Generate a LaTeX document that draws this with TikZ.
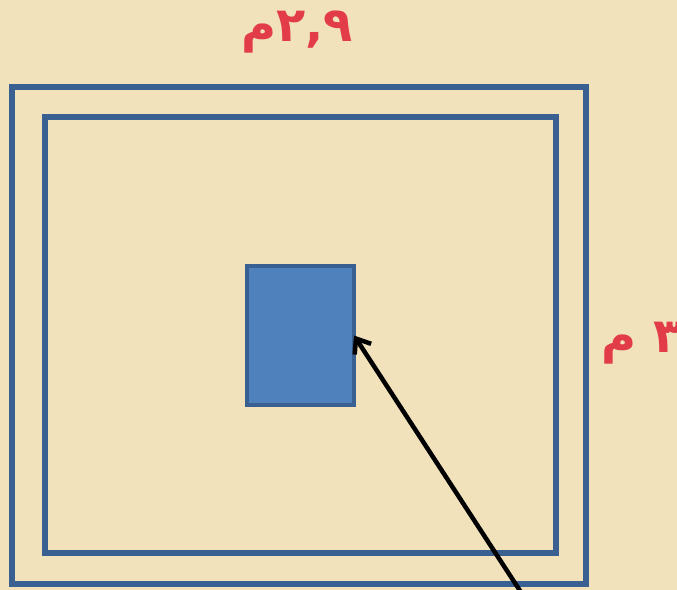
\documentclass[tikz,border=0pt]{standalone}
\usepackage{fontspec}
\newfontfamily\arabicfont[Script=Arabic]{DejaVu Sans}
\TeXXeTstate=1
\usetikzlibrary{arrows.meta}
\definecolor{paper}{RGB}{241,226,188}
\definecolor{wallblue}{RGB}{58,95,145}
\definecolor{roomblue}{RGB}{79,129,189}
\definecolor{labelred}{RGB}{226,60,72}
\tikzset{
  wall/.style={draw=wallblue,line width=3.6pt,inner sep=0pt,outer sep=0pt},
  measure/.style={text=labelred,font=\arabicfont\bfseries\fontsize{34}{34}\selectfont}
}
\begin{document}
\begin{tikzpicture}[x=0.025cm,y=-0.025cm]
\useasboundingbox (0,0) rectangle (677,590);
\fill[paper] (0,0) rectangle (677,590);
\clip (0,0) rectangle (677,590);
\node[wall,minimum width=574*0.025cm,minimum height=497*0.025cm] (outer) at (299,335.5) {};
\node[wall,minimum width=511*0.025cm,minimum height=436*0.025cm] (inner) at (300.5,335) {};
\node[wall,fill=roomblue,line width=3pt,minimum width=107*0.025cm,minimum height=139*0.025cm] (room) at (300.5,335.5) {};
\node[measure] (width) at (297,32) {\beginR ٢,٩م\endR};
\node[measure] (depth) at (642,343) {\beginR ٣ م\endR};
\coordinate (tail) at (526,600);
\draw[line width=3.2pt,-{Straight Barb[length=9pt,width=14pt]}] (tail) -- (room.east);
\end{tikzpicture}
\end{document}
